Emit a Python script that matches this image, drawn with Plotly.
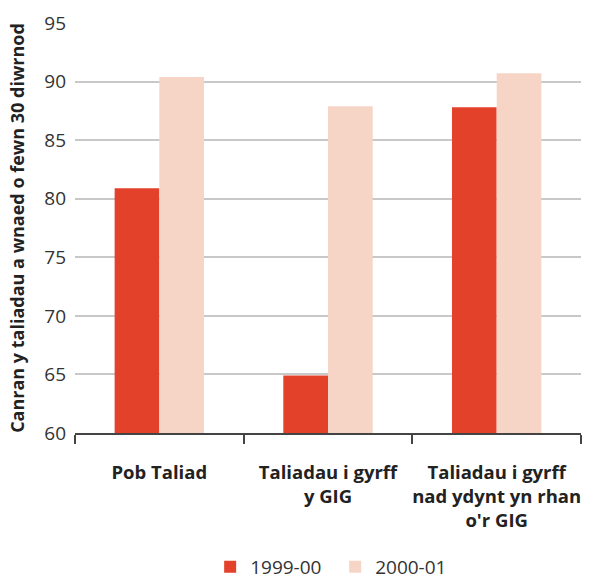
import plotly.graph_objects as go

categories = ["Pob Taliad", "Taliadau i gyrff<br>y GIG", "Taliadau i gyrff<br>nad ydynt yn rhan<br>o'r GIG"]
series_names = ["1999-00", "2000-01"]
values_1999 = [80.9, 64.9, 87.8]
values_2000 = [90.4, 87.9, 90.7]
y_ticks = [60, 65, 70, 75, 80, 85, 90, 95]

FONT = "Open Sans, Liberation Sans, sans-serif"

fig = go.Figure()
fig.add_trace(go.Bar(x=categories, y=values_1999, name=series_names[0],
                     marker=dict(color="#E4412B", line=dict(width=0))))
fig.add_trace(go.Bar(x=categories, y=values_2000, name=series_names[1],
                     marker=dict(color="#F7D5C6", line=dict(width=0))))

fig.update_layout(
    width=592, height=579,
    margin=dict(l=75, r=11, t=23, b=146, autoexpand=False),
    plot_bgcolor="white", paper_bgcolor="white",
    barmode="group", bargap=0.47, bargroupgap=0,
    font=dict(family=FONT, color="#333333", size=19),
    showlegend=True,
    legend=dict(orientation="h", xref="container", yref="container",
                x=0.355, xanchor="left", y=0.021, yanchor="middle",
                font=dict(size=19, color="#333333"), itemwidth=30,
                entrywidth=80, entrywidthmode="pixels",
                traceorder="normal"),
)
fig.update_xaxes(
    type="category", tickson="boundaries", ticks="outside", ticklen=9,
    tickcolor="#444444", tickwidth=1.5, automargin=False, tickangle=0,
    showline=True, linecolor="#444444", linewidth=1.5,
    tickfont=dict(family=FONT, size=18.5, color="#222222", weight="bold"),
    ticklabelstandoff=22,
    showgrid=False,
)
fig.update_yaxes(
    range=[60, 95], tickvals=y_ticks, showgrid=True, gridcolor="#C8C8C8", gridwidth=1.5,
    zeroline=False, showline=False, ticks="", automargin=False,
    tickfont=dict(family=FONT, size=19, color="#333333"),
    ticklabelstandoff=8,
    title=dict(text="Canran y taliadau a wnaed o fewn 30 diwrnod",
               font=dict(family=FONT, size=18, color="#222222", weight="bold"),
               standoff=14),
)

fig.write_html(
    "out.html",
    config={"displayModeBar": False},
    post_script="document.body.style.margin='0';document.body.style.overflow='hidden';",
)
